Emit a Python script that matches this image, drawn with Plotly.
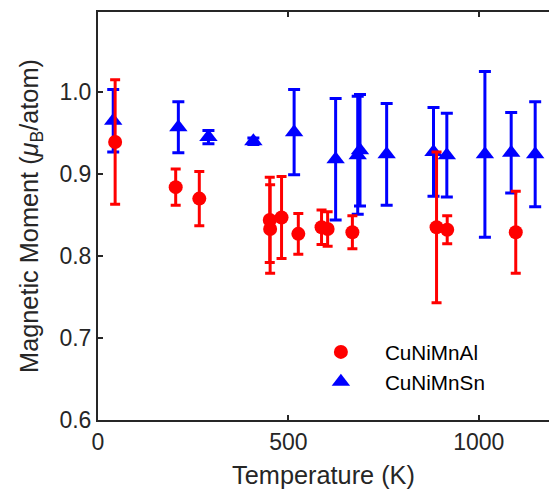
import plotly.graph_objects as go

# CuNiMnAl (red circles)
al_T = [45, 204, 266, 451, 452, 482, 526, 587, 603, 668, 889, 917, 1097]
al_M = [0.939, 0.884, 0.870, 0.844, 0.833, 0.847, 0.827, 0.835, 0.833, 0.829, 0.835, 0.832, 0.829]
al_E = [0.076, 0.022, 0.033, 0.052, 0.054, 0.050, 0.025, 0.021, 0.021, 0.020, 0.092, 0.017, 0.050]

# CuNiMnSn (blue triangles)
sn_T = [40, 211, 290, 408, 515, 624, 682, 688, 758, 881, 916, 1016, 1085, 1148]
sn_M = [0.965, 0.957, 0.945, 0.940, 0.951, 0.918, 0.923, 0.929, 0.924, 0.927, 0.923, 0.924, 0.926, 0.924]
sn_E = [0.038, 0.031, 0.008, 0.004, 0.052, 0.074, 0.072, 0.068, 0.062, 0.054, 0.051, 0.101, 0.049, 0.064]

x_ticks = [0, 500, 1000]
y_ticks = [0.6, 0.7, 0.8, 0.9, 1.0]

TXT = "#262626"
FONT = "Liberation Sans, Arial, Helvetica, sans-serif"

fig = go.Figure()
fig.add_trace(go.Scatter(
    x=sn_T, y=sn_M, mode="markers", name="CuNiMnSn", legendgroup="sn",
    marker=dict(symbol="triangle-up", size=16, color="#0000FF"),
    error_y=dict(type="data", array=sn_E, symmetric=True, color="#0000FF",
                 thickness=3, width=6),
))
fig.add_trace(go.Scatter(
    x=al_T, y=al_M, mode="markers", name="CuNiMnAl", legendgroup="al",
    marker=dict(symbol="circle", size=14, color="#FF0000"),
    error_y=dict(type="data", array=al_E, symmetric=True, color="#FF0000",
                 thickness=3, width=5),
))

fig.update_layout(
    width=549, height=489,
    margin=dict(l=98, r=0, t=12, b=68.5, pad=0),
    paper_bgcolor="white", plot_bgcolor="white",
    font=dict(family=FONT, color=TXT, size=23),
    showlegend=True,
    legend=dict(
        traceorder="reversed", x=0.441, y=0.130, xanchor="left", yanchor="middle",
        bgcolor="rgba(0,0,0,0)", font=dict(size=20.7, color="black"),
        itemwidth=78, tracegroupgap=9,
    ),
    xaxis=dict(
        range=[0, 1184.3], tickvals=x_ticks, ticks="inside", ticklen=5, tickwidth=1.5,
        tickcolor=TXT, showline=True, linecolor=TXT, linewidth=2, mirror="ticks",
        showgrid=False, zeroline=False, automargin=False,
        tickfont=dict(size=23, color=TXT),
        title=dict(text="Temperature (K)", font=dict(size=25.3, color=TXT), standoff=14),
    ),
    yaxis=dict(
        range=[0.6, 1.0976], tickvals=y_ticks, tickformat=".1f", ticks="inside", ticklen=5,
        tickwidth=1.5, tickcolor=TXT, showline=True, linecolor=TXT, linewidth=2, mirror=False,
        showgrid=False, zeroline=False, automargin=False,
        tickfont=dict(size=23, color=TXT),
        title=dict(text="Magnetic Moment (<i>μ</i><sub>B</sub>/atom)",
                   font=dict(size=25.3, color=TXT), standoff=14),
    ),
)

fig.write_html("out.html")
